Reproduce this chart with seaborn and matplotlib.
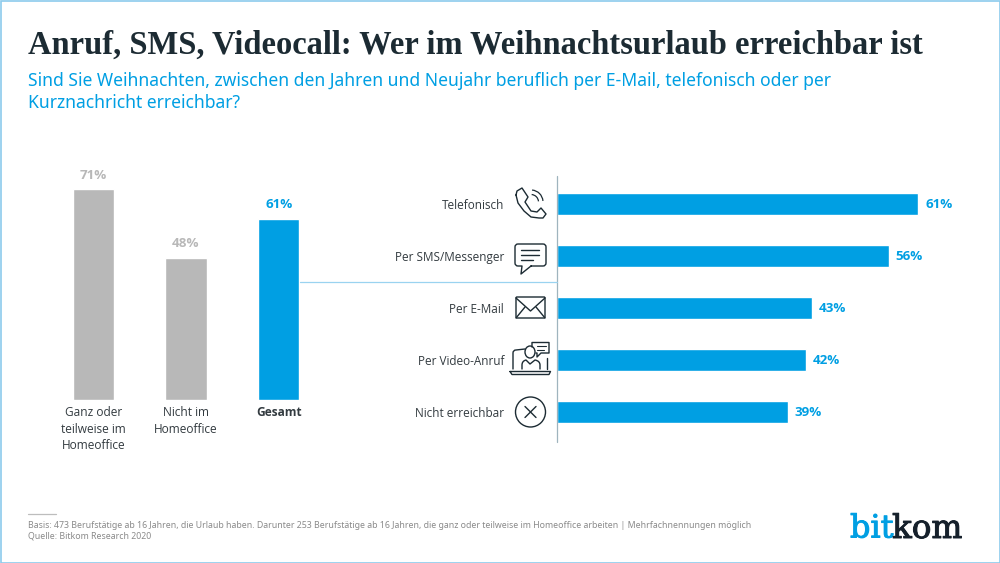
import matplotlib
matplotlib.use("Agg")
import matplotlib.pyplot as plt
import matplotlib.patheffects as pe
import numpy as np
import pandas as pd
import seaborn as sns
from matplotlib.path import Path
from matplotlib.patches import PathPatch, Circle, Ellipse, Rectangle, FancyBboxPatch, Arc

left_cats = ["Ganz oder\nteilweise im\nHomeoffice", "Nicht im\nHomeoffice", "Gesamt"]
left_vals = [71, 48, 61]
right_cats = ["Telefonisch", "Per SMS/Messenger", "Per E-Mail", "Per Video-Anruf", "Nicht erreichbar"]
right_vals = [61, 56, 43, 42, 39]

title = "Anruf, SMS, Videocall: Wer im Weihnachtsurlaub erreichbar ist"
subtitle = ("Sind Sie Weihnachten, zwischen den Jahren und Neujahr beruflich per E-Mail, telefonisch oder per\n"
            "Kurznachricht erreichbar?")
foot1 = ("Basis: 473 Berufstätige ab 16 Jahren, die Urlaub haben. Darunter 253 Berufstätige ab 16 Jahren, "
         "die ganz oder teilweise im Homeoffice arbeiten | Mehrfachnennungen möglich")
foot2 = "Quelle: Bitkom Research 2020"

BLUE = "#009FE3"
GREY = "#B8B8B8"
DARK = "#1C2B33"
TXT = "#333B40"
LINE = "#9AD3F0"
BODY = "Open Sans"

sns.set_theme(style="white")
plt.rcParams["font.family"] = [BODY, "DejaVu Sans"]
W, H = 1000, 563
fig = plt.figure(figsize=(10, 5.63), dpi=100, facecolor="white")

def px_axes(x0, y0, x1, y1, **kw):
    return fig.add_axes([x0 / W, 1 - y1 / H, (x1 - x0) / W, (y1 - y0) / H], **kw)

def fit_width(t, target):
    r = fig.canvas.get_renderer()
    t.set_fontsize(t.get_fontsize() * target / t.get_window_extent(r).width)

ov = px_axes(0, 0, W, H, zorder=5)
ov.set_xlim(0, W); ov.set_ylim(H, 0); ov.axis("off"); ov.patch.set_alpha(0)

# left column chart
axl = px_axes(47, 170, 325, 400)
axl.patch.set_alpha(0)
dl = pd.DataFrame({"cat": left_cats, "val": left_vals})
sns.barplot(data=dl, x="cat", y="val", hue="cat", dodge=False, legend=False,
            palette=[GREY, GREY, BLUE], width=0.445, saturation=1, ax=axl)
axl.set_ylim(0, 230 / 2.965)
axl.set_xlim(-0.5, 2.5)
axl.set_xlabel(""); axl.set_ylabel(""); axl.set_yticks([])
axl.tick_params(axis="x", length=0, pad=4.5, labelsize=8.6, labelcolor=TXT)
for lab in axl.get_xticklabels():
    lab.set_linespacing(1.36)
axl.get_xticklabels()[2].set_fontweight("bold")
sns.despine(ax=axl, left=True, top=True, right=True, bottom=True)
for cont, col in zip(axl.containers, [GREY, GREY, BLUE]):
    axl.bar_label(cont, fmt="%d%%", padding=5.5, color=col, fontweight="bold", fontsize=9.6)

# right horizontal chart
axr = px_axes(557, 178, 990, 438)
axr.patch.set_alpha(0)
dr = pd.DataFrame({"cat": right_cats, "val": right_vals})
sns.barplot(data=dr, y="cat", x="val", color=BLUE, saturation=1, width=0.44, ax=axr)
axr.set_xlim(0, 433 / 5.92)
axr.set_ylim(4.5, -0.5)
axr.set_xlabel(""); axr.set_ylabel(""); axr.set_xticks([])
axr.tick_params(axis="y", length=0, pad=38, labelsize=8.5, labelcolor=TXT)
sns.despine(ax=axr, left=True, top=True, right=True, bottom=True)
axr.bar_label(axr.containers[0], fmt="%d%%", padding=5, color=BLUE, fontweight="bold", fontsize=9.6)

# axis and connector
ov.plot([557, 557], [176, 442], color="#9FB4BE", lw=0.9)
ov.plot([300, 557], [282, 282], color=LINE, lw=0.9)

# text
t = ov.text(28, 45, title, family="Liberation Serif", fontweight="bold", fontsize=24, color=DARK, va="center", ha="left")
fit_width(t, 896)
ov.text(28, 92, subtitle, fontsize=12.6, color=BLUE, va="center", ha="left", linespacing=1.32, family="Noto Sans")
ov.plot([28, 56], [514, 514], color="#BDBDBD", lw=0.9)
t = ov.text(28, 525, foot1, fontsize=6.3, color="#8A8A8A", va="center", ha="left", family="Noto Sans")
fit_width(t, 726)
ov.text(28, 536, foot2, fontsize=6.3, color="#8A8A8A", va="center", ha="left", family="Noto Sans")

# logo
ov.text(850, 529, "bit", family="DejaVu Serif", fontsize=23, color=BLUE, va="center", ha="left",
        path_effects=[pe.withStroke(linewidth=0.7, foreground=BLUE)])
ov.text(892, 529, "kom", family="DejaVu Serif", fontsize=23.5, color="#15202B", va="center", ha="left",
        path_effects=[pe.withStroke(linewidth=0.7, foreground="#15202B")])

# frame
ov.add_patch(Rectangle((0.5, 0.5), W - 1, H - 1, fill=False, ec="#8CCBEC", lw=1.2))

# icons
ic = dict(color=DARK, lw=1.0, solid_capstyle="round")
def P(verts, codes=None):
    return PathPatch(Path(verts, codes), fill=False, ec=DARK, lw=1.0, capstyle="round", joinstyle="round")

M, L, C3 = Path.MOVETO, Path.LINETO, Path.CURVE3

# phone
ov.add_patch(P([(516, 195), (517, 191), (522, 188), (528, 197), (525, 202), (531, 211), (537, 212),
                (541, 208), (546, 214), (543, 218), (539, 218), (531, 217), (524, 211), (518, 203), (516, 195)]))
ov.add_patch(Arc((531, 202), 24, 24, theta1=-85, theta2=-5, ec=DARK, lw=0.9))
ov.add_patch(Arc((531, 202), 15, 15, theta1=-85, theta2=-5, ec=DARK, lw=0.9))

# speech bubble
ov.add_patch(P([(531, 266), (543, 266), (546, 266), (546, 263), (546, 247), (546, 244), (543, 244), (518, 244),
                (515, 244), (515, 247), (515, 263), (515, 266), (518, 266), (522, 266), (521, 274), (531, 266)],
               [M, L, C3, C3, L, C3, C3, L, C3, C3, L, C3, C3, L, L, L]))
for y, x1 in [(250, 539), (255, 539), (260, 533)]:
    ov.plot([521, x1], [y, y], **ic)

# envelope
ov.add_patch(FancyBboxPatch((516, 297), 29, 21, boxstyle="round,pad=0,rounding_size=1", fill=False, ec=DARK, lw=1.0))
ov.plot([516, 530.5, 545], [298, 311, 298], **ic)
ov.plot([516, 525], [318, 307], **ic)
ov.plot([545, 536], [318, 307], **ic)

# video call
ov.add_patch(P([(513, 369), (513, 353), (513, 350), (516, 350), (525, 349)], [M, L, C3, C3, L]))
ov.plot([547, 547], [358, 369], **ic)
ov.add_patch(P([(510, 371.5), (550.5, 371.5), (549, 374.5), (512, 374.5), (510, 371.5)]))
ov.add_patch(P([(532, 347), (532, 342.5), (549, 342.5), (549, 353), (541, 353), (537, 357), (537, 353), (536, 353)]))
ov.plot([537, 546], [346, 346], color=DARK, lw=0.8)
ov.plot([537, 544], [349.5, 349.5], color=DARK, lw=0.8)
ov.add_patch(Ellipse((530, 352), 10, 12, fill=False, ec=DARK, lw=1.0))
ov.add_patch(P([(522, 369), (522, 365), (522, 361), (526, 360), (530, 364), (535, 360), (540, 361), (540, 365), (540, 369)],
               [M, L, C3, C3, L, L, C3, C3, L]))

# crossed circle
ov.add_patch(Circle((530.5, 412), 15, fill=False, ec=DARK, lw=1.0))
ov.plot([525, 536], [406.5, 417.5], **ic)
ov.plot([536, 525], [406.5, 417.5], **ic)

fig.savefig("out.png", dpi=100, facecolor="white")
